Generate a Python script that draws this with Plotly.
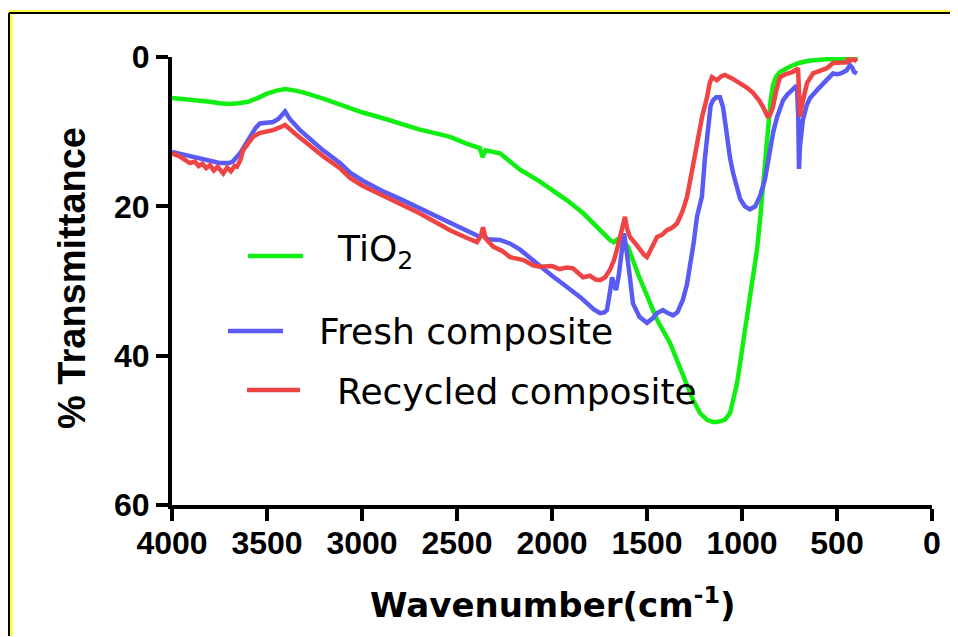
import plotly.graph_objects as go

# FTIR spectra: wavenumber (cm-1) vs % transmittance
wn_tio2 = [4000, 3950, 3900, 3850, 3800, 3750, 3700, 3650, 3600, 3550, 3500, 3450, 3405,
           3350, 3300, 3200, 3100, 3063, 3000, 2889, 2800, 2700, 2600, 2537, 2450, 2380,
           2365, 2350, 2274, 2168, 2063, 1921, 1837, 1747, 1695, 1675, 1655, 1630, 1600,
           1550, 1500, 1447, 1379, 1326, 1258, 1221, 1184, 1153, 1132, 1090, 1063, 1026,
           1000, 974, 947, 921, 905, 885, 868, 850, 837, 820, 800, 750, 700, 650, 553,
           480, 420, 390]
t_tio2 = [5.5, 5.6, 5.8, 5.9, 6.0, 6.2, 6.3, 6.2, 6.0, 5.5, 4.9, 4.5, 4.3,
          4.5, 4.8, 5.6, 6.5, 6.9, 7.4, 8.2, 8.9, 9.7, 10.3, 10.7, 11.6, 12.2,
          13.4, 12.5, 12.9, 15.1, 16.7, 19.2, 20.9, 23.2, 24.5, 24.8, 24.4, 24.6, 25.4,
          28.9, 32.1, 35.2, 38.3, 41.5, 45.9, 47.7, 48.6, 48.9, 48.9, 48.6, 47.7, 43.7,
          39.2, 34.8, 30.3, 25.8, 21.8, 16.0, 11.0, 6.0, 3.8, 2.6, 2.0, 1.3, 0.8, 0.5, 0.3,
          0.2, 0.2, 0.2]

wn_fresh = [4000, 3950, 3900, 3850, 3800, 3750, 3700, 3680, 3642, 3590, 3560, 3537, 3500,
            3468, 3440, 3405, 3380, 3326, 3250, 3205, 3116, 3063, 3000, 2889, 2800, 2700,
            2600, 2537, 2450, 2379, 2360, 2340, 2274, 2220, 2168, 2100, 2063, 2000, 1921,
            1850, 1780, 1747, 1725, 1711, 1695, 1684, 1670, 1663, 1650, 1642, 1630, 1621,
            1610, 1600, 1590, 1574, 1540, 1500, 1470, 1447, 1416, 1390, 1363, 1340, 1311,
            1290, 1274, 1255, 1237, 1211, 1195, 1179, 1165, 1153, 1135, 1116, 1100, 1090,
            1079, 1063, 1047, 1030, 1010, 985, 958, 930, 905, 880, 853, 835, 816, 800, 784,
            760, 732, 711, 704, 700, 695, 680, 660, 642, 600, 553, 521, 500, 480, 450, 432,
            420, 410, 395]
t_fresh = [12.7, 13.0, 13.4, 13.7, 14.0, 14.2, 14.2, 14.0, 12.9, 10.7, 9.5, 8.9, 8.8,
           8.7, 8.3, 7.3, 8.3, 9.8, 11.5, 12.5, 14.2, 15.5, 16.5, 18.0, 19.0, 20.2,
           21.4, 22.3, 23.2, 24.1, 23.8, 24.4, 24.5, 25.0, 25.8, 27.2, 28.1, 29.3, 30.8,
           32.2, 33.8, 34.3, 34.2, 33.9, 31.5, 29.5, 30.8, 31.2, 29.5, 28.1, 25.0, 23.6,
           25.5, 28.0, 29.5, 33.0, 34.8, 35.6, 35.0, 34.3, 33.9, 34.3, 34.6, 34.2, 32.5,
           30.5, 28.1, 25.0, 21.4, 18.7, 13.5, 8.9, 6.5, 5.8, 5.4, 5.4, 6.7, 8.5,
           11.1, 13.5, 15.5, 17.0, 19.0, 20.0, 20.4, 20.0, 18.6, 16.5, 12.4, 10.0, 8.1, 6.8, 5.8,
           5.0, 4.4, 3.8, 8.0, 15.0, 12.0, 8.5, 6.5, 5.5, 4.3, 3.1, 2.2, 2.3, 2.2, 1.8, 1.1,
           1.4, 2.0, 2.2]

wn_recycled = [4000, 3960, 3930, 3905, 3880, 3860, 3840, 3820, 3800, 3780, 3760, 3747, 3730,
               3710, 3690, 3670, 3658, 3640, 3626, 3600, 3574, 3540, 3500, 3468, 3430, 3405,
               3350, 3290, 3200, 3116, 3063, 3000, 2889, 2800, 2700, 2600, 2537, 2450, 2395,
               2375, 2363, 2350, 2310, 2260, 2221, 2150, 2100, 2063, 2000, 1960, 1921, 1889,
               1860, 1837, 1800, 1770, 1747, 1720, 1695, 1675, 1658, 1635, 1616, 1605, 1590,
               1560, 1537, 1515, 1500, 1480, 1447, 1420, 1395, 1370, 1342, 1315, 1290, 1265,
               1237, 1210, 1184, 1170, 1158, 1145, 1132, 1110, 1090, 1050, 1010, 975, 942,
               910, 889, 875, 863, 850, 837, 820, 800, 770, 732, 705, 700, 695, 685, 670,
               658, 626, 590, 553, 521, 480, 447, 442, 430, 410, 395]
t_recycled = [12.9, 13.3, 13.8, 14.2, 14.0, 14.6, 14.3, 14.9, 14.5, 15.2, 14.7, 15.1, 15.6,
              14.8, 15.3, 14.6, 14.7, 13.8, 12.5, 11.6, 10.7, 10.2, 10.0, 9.8, 9.4, 9.1,
              10.3, 11.6, 13.4, 14.9, 16.2, 17.2, 18.6, 19.6, 20.9, 22.3, 23.2, 24.2, 24.8,
              24.0, 22.8, 24.3, 25.4, 26.0, 26.8, 27.2, 27.9, 28.1, 28.0, 28.4, 28.2, 28.3,
              29.0, 29.5, 29.3, 29.8, 29.9, 29.5, 28.5, 27.3, 25.8, 23.5, 21.4, 23.0, 24.1,
              25.0, 25.8, 26.5, 26.8, 25.8, 24.1, 23.8, 23.2, 22.9, 22.3, 20.8, 18.8, 15.5,
              11.8, 8.0, 5.4, 3.5, 2.7, 3.0, 3.1, 2.6, 2.4, 2.9, 3.5, 4.1, 4.8,
              5.8, 6.7, 7.5, 8.1, 7.6, 6.7, 4.5, 2.7, 2.3, 2.0, 1.5, 4.0, 8.0, 6.5, 4.5,
              3.5, 2.2, 1.9, 1.5, 0.8, 0.8, 0.7, 0.2, 0.5, 0.3, 0.6]

series_names = ["TiO<sub>2</sub>", "Fresh composite", "Recycled composite"]
series_colors = ["#11EE11", "#5A5AF5", "#F04444"]

x_ticks = [4000, 3500, 3000, 2500, 2000, 1500, 1000, 500, 0]
y_ticks = [0, 20, 40, 60]

W, H = 958, 637
L, R, T, B = 172, 26, 57, 132
PW, PH = W - L - R, H - T - B


def px(x):
    return (x - L) / PW


def py(y):
    return (H - B - y) / PH


fig = go.Figure()
for wn, tr, name, col in zip([wn_tio2, wn_fresh, wn_recycled],
                             [t_tio2, t_fresh, t_recycled],
                             series_names, series_colors):
    fig.add_trace(go.Scatter(x=wn, y=tr, mode="lines", name=name,
                             line=dict(color=col, width=4.5), showlegend=False))

axis_common = dict(showline=True, linewidth=4, linecolor="black", ticks="outside",
                   ticklen=12, tickwidth=4, tickcolor="black", showgrid=False,
                   zeroline=False,
                   tickfont=dict(family="Liberation Sans", size=32, color="black",
                                 weight="bold"))

fig.update_layout(
    width=W, height=H,
    margin=dict(l=L, r=R, t=T, b=B, pad=0),
    paper_bgcolor="white", plot_bgcolor="white",
    xaxis=dict(range=[4000, 0], tickvals=x_ticks, ticklabelstandoff=-5, **axis_common),
    yaxis=dict(range=[60, 0], tickvals=y_ticks, **axis_common),
)

# outer frame: left and top edges, kept inside the page
fig.add_shape(type="line", xref="paper", yref="paper",
              x0=px(9), x1=px(9), y0=py(636), y1=py(13),
              line=dict(color="black", width=2), layer="above")
fig.add_shape(type="line", xref="paper", yref="paper",
              x0=px(9), x1=px(950), y0=py(13), y1=py(13),
              line=dict(color="black", width=2), layer="above")
fig.add_shape(type="line", xref="paper", yref="paper",
              x0=px(11.5), x1=px(11.5), y0=py(636), y1=py(14),
              line=dict(color="#FFFF00", width=2), layer="above")
fig.add_shape(type="line", xref="paper", yref="paper",
              x0=px(9), x1=px(950), y0=py(11), y1=py(11),
              line=dict(color="#FFFF00", width=1.5), layer="above")

# legend samples and labels
legend_rows = [
    (248, 303, 256, 335, 252),
    (228, 283, 331, 317, 331),
    (247, 300, 390, 335, 391),
]
for (x0, x1, yl, xt, yt), name, col in zip(legend_rows, series_names, series_colors):
    fig.add_shape(type="line", xref="paper", yref="paper",
                  x0=px(x0), x1=px(x1), y0=py(yl), y1=py(yl),
                  line=dict(color=col, width=4.5))
    fig.add_annotation(xref="paper", yref="paper", x=px(xt), y=py(yt),
                       xanchor="left", yanchor="middle", showarrow=False,
                       text=name, font=dict(family="DejaVu Sans", size=36, color="black"))

# axis titles
fig.add_annotation(xref="paper", yref="paper", x=px(72), y=py(278),
                   xanchor="center", yanchor="middle", showarrow=False, textangle=-90,
                   text="% Transmittance",
                   font=dict(family="Liberation Sans", size=38, color="black", weight="bold"))
fig.add_annotation(xref="paper", yref="paper", x=px(553), y=py(603),
                   xanchor="center", yanchor="middle", showarrow=False,
                   text="Wavenumber(cm<sup>-1</sup>)",
                   font=dict(family="DejaVu Sans", size=34, color="black", weight="bold"))

fig.write_html("out.html")
